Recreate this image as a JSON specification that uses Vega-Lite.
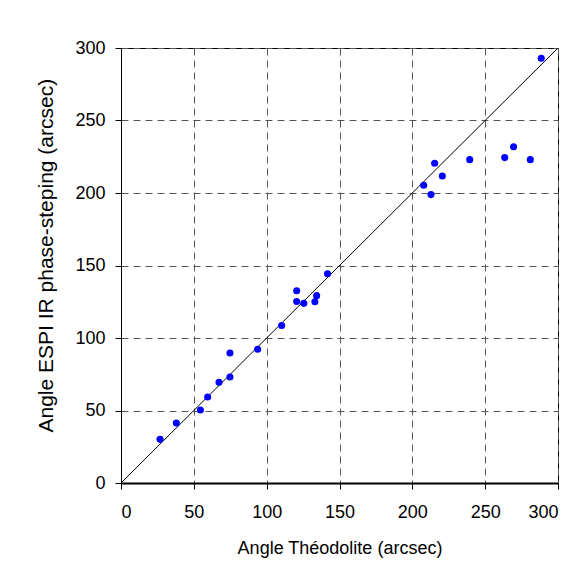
{
  "$schema": "https://vega.github.io/schema/vega-lite/v6.json",
  "width": 437,
  "height": 435,
  "autosize": "none",
  "padding": {"left": 121, "top": 48, "right": 26, "bottom": 105},
  "background": "white",
  "config": {
    "view": {"stroke": "black", "strokeWidth": 1},
    "font": "Liberation Sans",
    "axis": {
      "labelFont": "Liberation Sans",
      "titleFont": "Liberation Sans",
      "labelFontSize": 18,
      "titleFontSize": 18,
      "titleFontWeight": "normal",
      "labelColor": "black",
      "titleColor": "black",
      "domainColor": "black",
      "tickColor": "black",
      "tickSize": 6,
      "gridColor": "#555555",
      "gridDash": [7, 5],
      "gridWidth": 1
    }
  },
  "datasets": {
    "pts": [
      {"theo": 26.8, "espi": 30.1},
      {"theo": 38.0, "espi": 41.4},
      {"theo": 54.5, "espi": 50.3},
      {"theo": 59.5, "espi": 59.3},
      {"theo": 67.3, "espi": 69.4},
      {"theo": 74.8, "espi": 73.1},
      {"theo": 74.8, "espi": 89.7},
      {"theo": 93.8, "espi": 92.2},
      {"theo": 110.3, "espi": 108.6},
      {"theo": 120.6, "espi": 132.6},
      {"theo": 120.6, "espi": 125.2},
      {"theo": 125.5, "espi": 123.9},
      {"theo": 133.1, "espi": 125.0},
      {"theo": 134.3, "espi": 129.2},
      {"theo": 141.8, "espi": 144.3},
      {"theo": 207.8, "espi": 205.3},
      {"theo": 212.8, "espi": 198.9},
      {"theo": 215.3, "espi": 220.5},
      {"theo": 220.6, "espi": 211.7},
      {"theo": 239.4, "espi": 223.0},
      {"theo": 263.4, "espi": 224.4},
      {"theo": 269.5, "espi": 231.9},
      {"theo": 281.0, "espi": 223.0},
      {"theo": 288.5, "espi": 292.9}
    ],
    "diag": [
      {"theo": 0, "espi": 0},
      {"theo": 300, "espi": 300}
    ]
  },
  "layer": [
    {
      "data": {"name": "diag"},
      "mark": {"type": "line", "color": "black", "strokeWidth": 1, "clip": true},
      "encoding": {
        "x": {
          "field": "theo", "type": "quantitative",
          "scale": {"domain": [0, 300], "nice": false, "zero": true},
          "axis": {
            "title": "Angle Théodolite (arcsec)",
            "values": [0, 50, 100, 150, 200, 250, 300],
            "domainWidth": 2,
            "labelPadding": 14,
            "titlePadding": 18,
            "grid": true
          }
        },
        "y": {
          "field": "espi", "type": "quantitative",
          "scale": {"domain": [0, 300], "nice": false, "zero": true},
          "axis": {
            "title": "Angle ESPI IR phase-steping (arcsec)",
            "values": [0, 50, 100, 150, 200, 250, 300],
            "labelPadding": 10,
            "titleFontSize": 21,
            "titleX": -69,
            "titleY": 384,
            "titleAlign": "left",
            "titleBaseline": "alphabetic",
            "titleAngle": 270,
            "grid": true
          }
        }
      }
    },
    {
      "data": {"name": "pts"},
      "mark": {"type": "circle", "color": "#0000FF", "opacity": 1, "size": 50},
      "encoding": {
        "x": {"field": "theo", "type": "quantitative"},
        "y": {"field": "espi", "type": "quantitative"}
      }
    }
  ]
}
